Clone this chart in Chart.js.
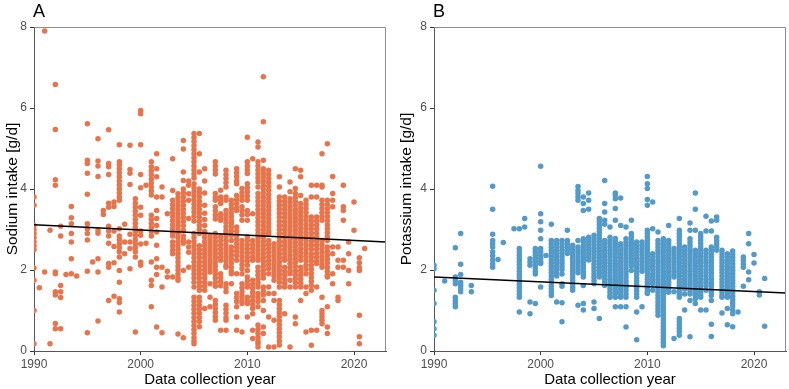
<!DOCTYPE html>
<html><head><meta charset="utf-8">
<script src="https://cdn.jsdelivr.net/npm/chart.js@4/dist/chart.umd.min.js"></script>
<style>
html,body{margin:0;padding:0;background:#fff;}
#wrap{position:relative;width:789px;height:389px;overflow:hidden;}
canvas{position:absolute;top:0;}
#ca{left:0}
#cb{left:394px}
</style></head><body>
<div id="wrap"><canvas id="ca" width="394" height="389"></canvas><canvas id="cb" width="395" height="389"></canvas></div>
<script>
const xTicks=[1990,2000,2010,2020];
const yTicks=[0,2,4,6,8];
const xRange=[1990,2023];
const yRange=[0,8];
const fitYears=[1990,2023];
const sodiumFit=[3.12,2.69];
const potassiumFit=[1.83,1.43];

const sodiumYears=[1990,1990.5,1991,1991.5,1992,1992.5,1993,1993.5,1994,1995,1995.5,1996,1996.5,1997,1997.5,1998,1998.5,1999,1999.5,2000,2000.5,2001,2001.5,2002,2002.5,2003,2003.5,2004,2004.5,2005,2005.5,2006,2006.5,2007,2007.5,2008,2008.5,2009,2009.5,2010,2010.5,2011,2011.5,2012,2012.5,2013,2013.5,2014,2014.5,2015,2015.5,2016,2016.5,2017,2017.5,2018,2018.5,2019,2019.5,2020,2020.5,2021];
const sodiumValues=[
[3.8,3.6,3.1,3.0,2.9,2.8,2.7,2.6,2.5,2.05,1.75,1.0,0.18],
[1.56],
[7.9,1.95],
[2.98,0.18],
[6.58,5.47,4.23,4.09,1.95,1.91,1.46,1.38,0.68,0.55],
[3.08,2.84,1.62,1.46,1.32,0.55],
[1.89],
[3.57,3.29,3.14,2.9,2.69,2.28,1.91],
[1.85],
[5.61,4.71,4.63,4.39,3.87,3.14,3.02,2.9,2.74,1.97,0.45],
[2.2],
[5.24,4.69,4.57,4.31,2.98,2.91,2.28,1.95,0.74],
[3.47,3.37],
[5.46,4.63,4.55,4.36,3.65,3.55,3.08,2.96,2.84,2.66,2.16,2.07,1.25],
[3.68,3.57,2.96,2.58,2.18,1.35],
[5.09,4.67,4.6,4.5,4.4,4.3,4.2,4.1,4.0,3.9,3.8,3.72,3.02,2.84,2.75,2.65,2.55,2.45,2.32,1.99,1.7,1.29,1.2,0.96],
[3.13,2.69,2.4],
[5.08,4.48,4.39,4.11,2.88,2.69,2.53,2.03],
[3.76,3.65,3.55,3.45,3.35,3.25,3.15,3.05,2.95,2.85,2.75,2.65,2.55,2.45,2.32,0.47],
[5.94,5.86,5.09,4.36,4.03,3.55,3.35,2.96,2.86,2.64,2.19,2.12],
[4.09,2.66],
[4.67,4.55,4.45,4.35,4.25,4.15,4.05,3.95,3.85,3.35,3.25,3.15,3.05,2.95,2.84,2.2,1.75,1.62,1.09],
[4.87,4.5,4.3,3.8,3.47,3.27,3.1,2.94,2.61,2.28,2.07,1.89,0.59],
[4.05,3.8,2.07,1.58,0.45],
[3.39,1.97,1.83],
[4.75,3.96,3.72,3.62,3.52,3.42,3.32,3.22,3.12,3.02,2.92,2.84,2.69,2.59,2.49,2.4,1.83],
[3.88,3.78,3.68,3.58,3.48,3.38,3.28,3.18,3.08,2.98,2.9,2.8,2.7,2.6,2.5,2.4,2.3,2.2,2.1,2.0,1.9,1.8,1.75,0.42],
[5.2,4.99,4.42,4.21,4.0,3.9,3.8,3.7,3.6,3.5,3.4,3.3,3.2,3.1,2.98,2.84,2.75,2.66,1.99,0.33],
[4.2,4.09,3.88,3.72,3.27,2.69,2.57,2.44,2.07],
[5.37,5.27,5.17,5.07,4.97,4.87,4.77,4.67,4.57,4.47,4.37,4.27,4.13,4.03,3.93,3.83,3.73,3.63,3.53,3.43,3.33,3.21,2.9,2.8,2.7,2.6,2.5,2.4,2.3,2.2,2.1,2.0,1.9,1.8,1.7,1.58,1.33,1.23,1.13,1.03,0.93,0.83,0.73,0.63,0.53,0.43,0.33,0.25,0.18],
[5.37,4.87,4.42,4.0,3.9,3.8,3.7,3.6,3.5,3.4,3.3,3.2,3.1,3.0,2.9,2.6,2.5,2.4,2.3,2.2,2.1,2.0,1.9,1.8,1.7,1.6,1.5,1.33,1.23,1.13,1.03,0.93,0.83,0.73,0.6],
[4.5,4.2,3.9,3.6,3.4,3.25,3.1,2.95,2.9,2.8,2.7,2.6,2.5,2.4,2.3,2.2,2.1,2.0,1.9,1.8,1.7,1.6,1.5,1.05],
[2.85,2.75,2.65,2.55,2.45,2.35,2.25,2.15,2.05,1.95,1.66,1.33,1.09],
[4.67,4.57,4.47,4.37,3.89,3.79,3.72,3.56,3.46,3.36,3.26,2.9,2.8,2.7,2.6,2.5,2.4,2.3,2.2,2.1,2.0,1.9,1.8,1.7,1.6,1.25,1.15,1.05,0.95,0.85,0.76],
[3.97,3.8,3.72,3.64,3.39,3.31,3.23,2.82,2.72,2.62,2.52,2.42,2.32,2.24,1.91,1.81,1.71,1.61,0.51],
[4.46,4.36,4.26,4.16,4.05,3.8,3.72,3.47,3.37,3.27,3.17,3.07,2.97,2.9,2.82,2.72,2.62,2.52,2.42,2.32,2.22,2.12,2.07,1.66,1.56,1.46,1.13,1.03,0.93,0.83,0.76,0.51],
[3.72,3.62,3.52,3.42,3.32,3.22,3.15,3.06,2.96,2.86,2.73,2.57,2.47,2.37,2.27,2.17,2.07,1.97,1.91,1.66],
[4.5,4.4,4.3,4.2,4.13,3.84,3.74,3.64,3.54,3.47,3.06,2.96,2.86,2.76,2.66,2.56,2.46,2.36,2.24,1.91,1.42,1.32,1.22,1.09,0.84,0.51],
[4.01,3.91,3.81,3.72,3.56,3.46,3.36,3.23,2.73,2.63,2.53,2.43,2.33,2.23,2.13,2.03,1.91,1.66,1.56,1.46,1.36,1.26,1.17,0.47],
[5.28,4.67,4.57,4.47,4.38,4.13,4.03,3.93,3.83,3.72,3.47,3.37,3.23,2.82,2.72,2.62,2.52,2.42,2.32,2.22,2.12,1.99,1.83,1.73,1.63,1.58,1.33,1.23,1.17,0.84],
[4.75,3.39,2.73,2.63,2.53,2.43,2.33,2.24,1.75,1.65,1.55,1.45,1.35,1.25,1.15,1.05,0.92,0.51,0.31],
[5.16,5.04,4.67,4.57,4.47,4.37,4.27,4.17,4.05,3.89,3.79,3.69,3.59,3.49,3.39,3.29,3.19,3.09,2.99,2.89,2.79,2.69,2.59,2.49,2.39,2.29,2.24,2.07,1.97,1.87,1.77,1.67,1.58,1.42,1.32,1.22,1.09,0.64,0.54,0.44,0.34,0.24,0.18,0.1],
[6.77,5.66,4.71,4.5,4.4,4.3,4.2,4.1,4.0,3.9,3.8,3.7,3.6,3.5,3.4,3.3,3.2,3.1,3.0,2.9,2.8,2.7,2.6,2.5,2.4,2.3,2.2,2.1,2.0,1.9,1.8,1.58,1.48,1.38,1.25,1.0,0.59,0.43],
[4.46,4.36,4.26,4.16,4.06,3.96,3.86,3.76,3.66,3.56,3.46,3.36,3.26,3.16,3.06,2.96,2.9,2.73,2.63,2.53,2.43,2.33,2.23,2.13,2.03,1.91,1.58,1.42,0.84,0.1],
[2.65,2.55,2.45,2.35,2.25,2.15,2.05,1.95,1.85,1.75,1.42,1.25,0.76,0.1],
[4.3,4.05,3.8,3.7,3.6,3.5,3.4,3.3,3.2,3.1,3.0,2.9,2.8,2.7,2.6,2.5,2.4,2.3,2.2,2.1,2.0,1.9,1.8,1.7,1.58,1.25,1.15,1.05,0.95,0.85,0.75,0.65,0.55,0.45,0.35,0.25,0.15],
[3.8,3.7,3.6,3.5,3.4,3.3,3.2,3.1,3.0,2.9,2.8,2.7,2.6,2.5,2.4,2.3,2.24,2.07,1.97,1.87,1.77,1.67,1.58,0.92],
[4.17,3.93,3.76,3.66,3.56,3.46,3.36,3.26,3.16,3.06,2.96,2.86,2.76,2.66,2.56,2.46,2.36,2.26,2.16,2.06,1.96,1.91,1.75,1.58,0.1],
[4.5,4.01,3.89,3.79,3.69,3.59,3.49,3.39,3.29,3.19,3.09,2.99,2.89,2.79,2.69,2.59,2.49,2.39,2.29,2.19,2.09,1.99,1.89,1.79,1.69,1.58,0.84,0.67],
[4.46,4.3,3.84,3.64,3.54,3.44,3.34,3.24,3.14,3.04,2.94,2.84,2.74,2.64,2.54,2.44,2.34,2.24,2.07,1.97,1.87,1.77,1.67,1.58,1.25],
[3.72,3.62,3.52,3.42,3.32,3.22,3.12,3.02,2.92,2.82,2.72,2.62,2.52,2.42,2.32,2.22,2.12,2.02,1.91,1.58,1.42,0.47],
[4.09,3.8,3.31,3.21,3.11,3.01,2.91,2.81,2.71,2.61,2.51,2.4,2.32,2.22,2.12,2.02,1.92,1.82,1.72,1.62,1.5,0.51,0.14],
[4.09,3.8,3.31,3.21,3.11,3.01,2.91,2.81,2.71,2.61,2.51,2.41,2.31,2.21,2.16,1.58,0.51],
[4.87,4.09,4.05,3.72,3.62,3.52,3.42,3.32,3.23,2.73,2.63,2.53,2.43,2.33,2.23,2.13,2.07,1.33,1.0,0.92,0.84,0.76,0.67],
[5.12,3.72,3.62,3.52,3.42,3.32,3.22,3.12,3.02,2.92,2.82,2.73,2.57,2.47,2.37,2.27,2.17,2.07,1.97,1.87,1.83,1.09,0.59,0.43],
[4.31,3.89,3.72,3.56,2.57,2.4,1.91,1.66],
[2.57,2.24,2.07,1.33,1.25],
[4.09,3.56,3.47,3.23,2.24,2.07],
[2.69,2.4,1.99,1.66],
[3.68,2.98],
[2.3,2.18,2.06,1.99,0.88,0.35,0.18],
[2.53]
];

const potassiumYears=[1990,1991,1992,1992.5,1993.5,1995.5,1996,1996.5,1997.5,1998,1998.5,1999,1999.5,2000,2000.5,2001,2001.5,2002,2002.5,2003,2003.5,2004,2004.5,2005,2005.5,2006,2006.5,2007,2007.5,2008,2008.5,2009,2009.5,2010,2010.5,2011,2011.5,2012,2012.5,2013,2013.5,2014,2014.5,2015,2015.5,2016,2016.5,2017,2017.5,2018,2018.5,2019,2019.5,2020,2020.5,2021];
const potassiumValues=[
[2.12,2.03,1.5,1.17,0.72,0.55,0.39],
[1.73],
[2.55,1.83,1.75,1.66,1.33,1.25,1.17,1.09],
[2.9,2.14,1.89,1.7,1.62,1.54,1.46],
[1.62,1.46],
[4.07,3.5,2.88,2.73,2.65,2.57,2.45,2.35,2.25,2.15,2.07],
[2.26],
[2.68],
[3.02],
[3.02,2.53,2.45,2.37,2.29,2.21,2.13,2.05,1.97,1.89,1.81,1.73,1.65,1.57,1.49,1.41,1.33,0.96],
[3.27,3.06],
[2.28,2.2,2.12,1.21,0.92],
[2.53,2.45,2.37,2.29,2.21,2.13,2.05,1.97,1.9,1.17],
[4.56,3.39,3.19,2.98,2.77,2.53,2.45,2.37,2.29,2.21,2.16,1.58],
[2.36],
[3.13,2.73,2.65,2.57,2.49,2.41,2.33,2.25,2.17,2.09,2.01,1.93,1.85,1.77,1.69,1.61,1.53,1.45,1.37],
[2.73,2.65,2.57,2.49,2.41,2.33,2.25,2.17,2.09,2.01,1.93,1.85,1.21],
[2.73,2.65,2.57,2.49,2.41,2.33,2.25,2.17,2.09,2.01,1.9,1.66,1.6,1.19,0.72],
[2.98,2.73,2.65,2.57,2.49,2.41],
[2.61,2.53,2.45,2.37,2.29,2.21,2.13,2.05,1.97,1.89,1.81,1.73,1.65,1.57,1.5],
[4.06,3.97,3.89,3.8,3.72,2.73,2.57,2.49,2.41,2.33,2.25,2.17,2.09,2.01,1.93,1.13],
[3.8,3.64,3.47,2.77,2.69,2.61,2.53,2.45,2.37,2.29,2.21,2.13,2.05,1.97,1.89,1.83,1.62,1.17,1.01],
[3.9,3.72,3.5,2.81,2.73,2.65,2.57,2.49,2.41,2.33,2.25],
[2.86,2.78,2.7,2.62,2.54,2.46,2.38,2.3,2.22,2.14,2.06,1.98,1.9,1.82,1.74,1.66,1.21,1.05],
[3.27,3.19,3.11,3.03,2.95,2.87,2.79,2.71,2.63,2.55,2.47,2.39,2.31,2.23,2.15,2.07,1.99,1.91,1.83,0.8],
[4.21,3.64,3.43,3.23,3.13,2.73,2.65,2.57,2.49,2.41,2.33,2.25,2.17,2.09,2.01,1.93,1.85,1.77,1.69,1.62],
[3.06,2.81,2.73,2.65,2.57,2.49,2.41,2.33,2.25,2.17,2.09,2.01,1.93,1.85,1.77,1.69,1.61,1.53,1.45,1.37,1.33],
[3.9,3.85,3.76,3.52,3.23,2.78,2.7,2.62,2.54,2.46,2.38,2.3,2.22,2.14,2.06,1.98,1.9,1.82,1.74,1.66,1.58,1.5,1.42,1.33,1.09],
[3.78,3.1,2.65,2.57,2.49,2.41,2.33,2.25,2.17,2.09,2.01,1.93,1.85,1.77,1.69,1.61,1.53,1.45,1.37,1.33,1.09],
[3.06,2.77,2.69,2.61,2.53,2.45,2.37,2.29,2.21,2.13,2.05,1.97,1.89,1.81,1.73,1.65,1.57,1.49,1.41,1.33,1.09,0.59],
[3.23,2.9,2.82,2.74,2.66,2.58,2.5,2.42,2.34,2.26,2.18,2.1,1.99],
[2.69,2.61,2.53,2.45,2.37,2.29,2.21,2.13,2.05,1.97,1.89,1.81,1.73,1.65,1.57,1.49,1.41,1.33,0.96,0.28],
[2.69,2.61,2.53,2.45,2.37,2.29,2.21,2.13,2.05,1.97,1.09],
[4.31,4.13,4.01,3.74,3.6,2.98,2.9,2.82,2.74,2.66,2.58,2.5,2.42,2.34,2.26,2.18,2.1,2.02,1.94,1.86,1.78,1.7,1.62,1.54,1.46,1.42],
[3.68,3.02,2.4,2.32,2.24,2.16,2.08,2.0,1.9,1.82,1.74,1.66,1.5],
[2.94,2.73,2.65,2.57,2.49,2.41,2.33,2.25,2.17,2.09,2.01,1.93,1.85,1.77,1.69,1.61,1.53,1.45,1.37,1.29,1.21,1.13,1.05,0.97,0.88],
[2.77,2.69,2.61,2.53,2.45,2.37,2.29,2.21,2.13,2.05,1.97,1.89,1.81,1.73,1.65,1.57,1.49,1.41,1.33,1.25,1.17,1.09,1.01,0.93,0.85,0.77,0.69,0.61,0.53,0.45,0.37,0.29,0.21,0.13],
[3.1,2.73,2.65,2.57,2.49,2.41,2.33,2.25,2.17,2.09,2.01,1.93,1.85,1.77,1.69,1.61,1.53,1.45],
[2.53,2.45,2.37,2.29,2.21,2.13,2.05,1.97,1.89,1.83,1.46,0.31],
[3.27,2.98,2.9,2.82,2.74,2.66,2.58,2.5,2.42,2.34,2.26,2.18,2.1,2.02,1.94,1.86,1.78,1.7,1.62,1.54,1.46,1.38,1.33,0.8,0.72,0.64,0.56,0.48,0.39],
[2.57,2.49,2.41,2.33,2.25,2.17,2.09,2.01,1.93,1.85,1.77,1.69,1.61,1.53,1.41,1.01],
[3.16,2.98,2.77,2.69,2.61,2.53,2.45,2.37,2.29,2.21,2.13,2.05,1.97,1.89,1.81,1.73,1.65,1.57,1.49,1.41,1.25,0.35],
[3.9,3.5,2.98,2.49,2.41,2.33,2.25,2.17,2.09,2.01,1.93,1.85,1.77,1.69,1.61,1.53,1.45,1.37,1.29,1.17],
[2.9,2.82,2.74,2.66,2.58,2.5,2.42,2.34,2.26,2.18,2.1,2.02,1.94,1.86,1.78,1.7,1.62,1.54,1.46,1.38,1.33,1.01],
[3.33,2.96,2.49,2.41,2.33,2.25,2.17,2.09,2.01,1.93,1.85,1.77,1.69,1.61,1.5,1.01],
[3.21,2.96,2.57,2.49,2.41,2.33,2.25,2.17,2.09,2.01,1.93,1.85,1.77,1.69,1.61,1.53,1.45,1.37,1.25,0.66,0.36],
[3.31,3.23,2.81,2.73,2.65,2.57,2.49],
[2.49,2.41,2.33,2.25,2.17,2.09,2.01,1.93,1.85,1.77,1.69,1.61,1.53,1.45,1.37,1.33,0.94],
[2.4,2.32,2.24,2.16,2.08,2.0,1.92,1.84,1.76,1.68,1.6,1.52,1.44,1.36,1.33,1.05,0.65],
[2.47,2.39,2.31,2.23,2.15,2.07,1.99,1.91,1.83,1.75,1.67,1.59,1.51,1.43,1.35,1.27,1.19,1.11,1.01,0.92,0.6],
[0.96],
[2.32,2.24,2.15,2.07,1.6],
[2.9,2.65,1.95,1.76],
[2.38,2.17],
[1.46,1.38],
[1.79,0.61]
];

const FONT="'Liberation Sans', Arial, Helvetica, sans-serif";
const toPoints=(years,values)=>years.flatMap((yr,i)=>values[i].map(v=>({x:yr,y:v})));

const framePlugin={
  id:'frame',
  afterDraw(chart,args,opts){
    const {ctx,chartArea:{left,right,top,bottom}}=chart;
    ctx.save();
    ctx.strokeStyle='#8c8c8c';
    ctx.lineWidth=1;
    ctx.beginPath();
    ctx.moveTo(left,top+0.5);ctx.lineTo(right-0.5,top+0.5);ctx.lineTo(right-0.5,bottom);
    ctx.stroke();
    ctx.fillStyle='#000';
    ctx.font='18px '+FONT;
    ctx.textBaseline='alphabetic';
    ctx.textAlign='left';
    ctx.fillText(opts.letter,left-1,17);
    ctx.restore();
  }
};

function makeChart(id,letter,yLabel,years,values,color,fit,yWidth,padRight){
  new Chart(document.getElementById(id),{
    data:{datasets:[
      {type:'line',data:fitYears.map((yr,i)=>({x:yr,y:fit[i]})),borderColor:'#000',borderWidth:1.5,pointRadius:0,fill:false,order:0},
      {type:'scatter',data:toPoints(years,values),backgroundColor:color,borderWidth:0,pointRadius:2.75,pointHoverRadius:2.75,order:1}
    ]},
    options:{
      responsive:false,animation:false,devicePixelRatio:1,
      layout:{padding:{left:0,right:padRight,top:27,bottom:0}},
      plugins:{legend:{display:false},tooltip:{enabled:false},frame:{letter:letter}},
      events:[],
      scales:{
        x:{type:'linear',min:xRange[0],max:xRange[1],
          afterBuildTicks:s=>{s.ticks=xTicks.map(v=>({value:v}));},
          afterFit:s=>{s.height=38;},
          ticks:{callback:v=>String(v),color:'#4d4d4d',font:{size:12,family:FONT},padding:2,maxRotation:0,autoSkip:false},
          grid:{drawOnChartArea:false,drawTicks:true,tickLength:4,tickColor:'#333',color:'#333'},
          border:{color:'#555',width:1},
          title:{display:true,text:'Data collection year',color:'#000',font:{size:15,family:FONT},padding:{top:0,bottom:0}}
        },
        y:{type:'linear',min:yRange[0],max:yRange[1],
          afterBuildTicks:s=>{s.ticks=yTicks.map(v=>({value:v}));},
          afterFit:s=>{s.width=yWidth;},
          ticks:{callback:v=>String(v),color:'#4d4d4d',font:{size:12,family:FONT},padding:3},
          grid:{drawOnChartArea:false,drawTicks:true,tickLength:4,tickColor:'#333',color:'#333'},
          border:{color:'#555',width:1},
          title:{display:true,text:yLabel,color:'#000',font:{size:15.5,family:FONT},padding:{top:3,bottom:0}}
        }
      }
    },
    plugins:[framePlugin]
  });
}

makeChart('ca','A','Sodium intake [g/d]',sodiumYears,sodiumValues,'#E8744C',sodiumFit,34,8);
makeChart('cb','B','Potassium intake [g/d]',potassiumYears,potassiumValues,'#529AC8',potassiumFit,40,3);
</script>
</body></html>
